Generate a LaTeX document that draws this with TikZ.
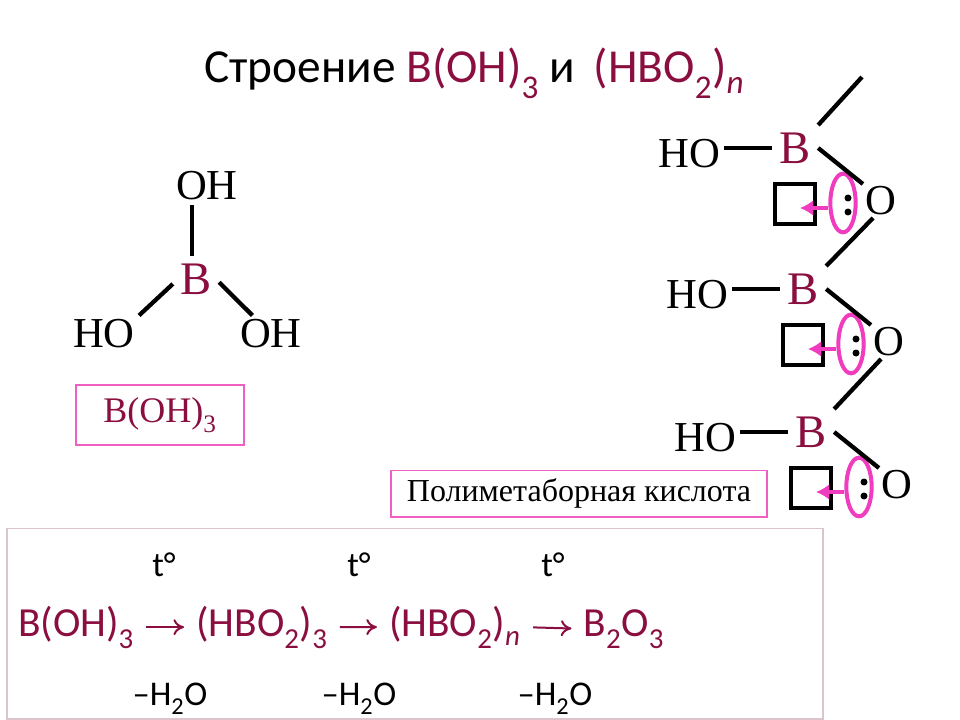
\documentclass[tikz,border=0pt]{standalone}
\usepackage{fontspec}
\setmainfont{Liberation Serif}
\newfontfamily\slidefont{Carlito}
\usetikzlibrary{shapes.geometric,arrows.meta}
\definecolor{boron}{HTML}{8A0F40}
\definecolor{accent}{HTML}{F03CBE}
\definecolor{framepink}{HTML}{F060C4}
\definecolor{framepale}{HTML}{DCC4CC}
\newcommand{\lowsub}[1]{\raisebox{-0.12em}{\textsubscript{#1}}}
\begin{document}
\begin{tikzpicture}[
        x=0.75pt,
        y=-0.75pt,
        bond/.style={line width=3.2pt},
        atom/.style={font=\fontsize{32}{32}\selectfont,inner sep=3pt},
        boron/.style={font=\fontsize{35}{35}\selectfont,text=boron,inner sep=5.5pt},
        oxygen/.style={font=\fontsize{32}{32}\selectfont,inner sep=1.8pt},
        orbital/.style={draw,line width=2.6pt,minimum size=30pt,inner sep=0pt},
        pair/.style={draw=accent,line width=3pt,ellipse,minimum width=19pt,minimum height=44pt,inner sep=0pt},
        donate/.style={draw=accent,line width=3pt,-{Latex[length=10pt,width=12pt]}},
        namebox/.style={draw=framepink,line width=1pt,inner sep=0pt},
        slide/.style={font=\slidefont\fontsize{26}{26}\selectfont},
        formula/.style={font=\slidefont\fontsize{31}{31}\selectfont,text=boron,anchor=base,inner sep=0pt},
        step arrow/.style={draw=boron,line width=1.5pt,-{To[length=8pt,width=12pt]},shorten >=9pt,shorten <=9pt}
    ]
    \useasboundingbox (0,0) rectangle (960,720);

    \node [font=\slidefont\fontsize{35.5}{35.5}\selectfont,anchor=base west,inner sep=0pt] (title) at (204,83)
        {Строение \textcolor{boron}{B(OH)\lowsub{3}} и\, \textcolor{boron}{(HBO\lowsub{2})\lowsub{\textit{n}}}};

    \node [atom] (ohtop) at (207,186) {OH};
    \node [boron] (bcenter) at (196,279) {B};
    \node [atom] (holeft) at (104,334) {HO};
    \node [atom] (ohright) at (271,334) {OH};
    \draw [bond] ([xshift=-3pt]bcenter.north) -- ([xshift=-3pt]bcenter.north |- ohtop.south);
    \draw [bond] (bcenter.192) -- (holeft.north east);
    \draw [bond] (bcenter.-8) -- (ohright.135);
    \node [namebox,minimum width=126pt,minimum height=45pt,font=\fontsize{27}{27}\selectfont,text=boron] (acidname) at (160,415) {B(OH)\lowsub{3}};

    \foreach \i/\dx/\dy in {1/0/0,2/8/141,3/16/284} {
        \begin{scope}[shift={(\dx,\dy)}]
            \node [boron] (b\i) at (795,148) {B};
            \node [atom] (ho\i) at (689,154) {HO};
            \node [oxygen] (o\i) at (881,201) {O};
            \node [orbital] (box\i) at (795,204) {};
            \node [pair] (lone\i) at (843,203) {};
            \fill (848,198) circle (3.5);
            \fill (848,212) circle (3.5);
            \coordinate (tip\i) at (800,208);
            \draw [donate] (lone\i.west |- tip\i) -- (tip\i);
            \draw [bond] (ho\i.east |- b\i.west) -- (b\i.west);
            \draw [bond] (b\i.east) -- (o\i.north west);
        \end{scope}
    }
    \coordinate (chainend) at (862,77);
    \draw [bond] (b1.north east) -- (chainend);
    \draw [bond] (o1.-115) -- (b2.north east);
    \draw [bond] (o2.-115) -- (b3.north east);

    \node [namebox,minimum width=282pt,minimum height=35pt,font=\fontsize{24}{24}\selectfont] (polyname) at (579,493.5) {Полиметаборная кислота};

    \node [draw=framepale,line width=1pt,minimum width=612pt,minimum height=143pt,inner sep=0pt] (chainbox) at (415,623.5) {};

    \node [formula] (f1) at (76,636) {B(OH)\lowsub{3}};
    \node [formula] (f2) at (262,636) {(HBO\lowsub{2})\lowsub{3}};
    \node [formula] (f3) at (455,636) {(HBO\lowsub{2})\lowsub{\textit{n}}};
    \node [formula] (f4) at (624,636) {B\lowsub{2}O\lowsub{3}};
    \draw [step arrow] (f1.east) -- (f2.west);
    \draw [step arrow] (f2.east) -- (f3.west);
    \draw [step arrow] (f3.east) -- (f4.west);

    \foreach \j/\xt/\xw in {1/164/170,2/359/359,3/553/555} {
        \node [slide,anchor=base,inner sep=0pt] (heat\j) at (\xt,576) {t°};
        \node [slide,anchor=base,inner sep=0pt] (water\j) at (\xw,705) {–H\lowsub{2}O};
    }
\end{tikzpicture}
\end{document}
